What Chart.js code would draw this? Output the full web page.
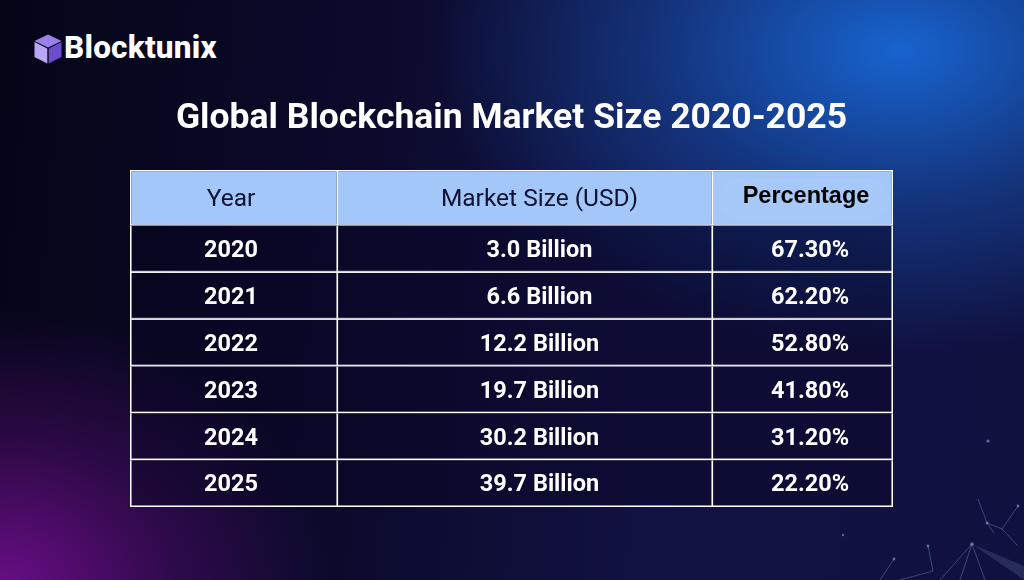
<!DOCTYPE html>
<html>
<head>
<meta charset="utf-8">
<title>Global Blockchain Market Size 2020-2025</title>
<script src="https://cdn.jsdelivr.net/npm/chart.js@4.4.0/dist/chart.umd.min.js"></script>
<style>
  html, body { margin: 0; padding: 0; }
  body {
    width: 1024px;
    height: 580px;
    overflow: hidden;
    position: relative;
    font-family: Roboto, "DejaVu Sans", sans-serif;
    background:
      radial-gradient(ellipse 470px 300px at 900px 50px, rgba(24,104,214,0.95), rgba(24,104,214,0.4) 50%, rgba(24,104,214,0) 100%),
      radial-gradient(ellipse 330px 280px at 0px 590px, rgba(112,14,142,0.95), rgba(112,14,142,0.35) 55%, rgba(112,14,142,0) 100%),
      linear-gradient(95deg, #050518 0%, #0b0a2c 35%, #121243 65%, #10113f 100%);
  }
  #logo {
    position: absolute;
    left: 34px;
    top: 29px;
    display: flex;
    align-items: center;
    color: #ffffff;
    font-weight: 800;
    font-size: 31.5px;
    letter-spacing: 0.2px;
  }
  #logo svg { margin-right: 2px; margin-top: 2px; }
  #marketTable { position: absolute; left: 0; top: 0; }
  #mesh { position: absolute; left: 0; top: 0; pointer-events: none; }
</style>
</head>
<body>
<div id="logo">
  <svg width="28" height="30" viewBox="0 0 28 30">
    <polygon points="14,0.5 27.5,7 14,13.5 0.5,7" fill="#9a80e8"/>
    <polygon points="0.5,8 13.3,14.4 13.3,29.5 0.5,23" fill="#b9a7f5"/>
    <polygon points="27.5,8 27.5,23 14.7,29.5 14.7,14.4" fill="#6a4ccc"/>
  </svg>
  <span>Blocktunix</span>
</div>
<canvas id="marketTable" width="1024" height="580"></canvas>
<svg id="mesh" width="1024" height="580">
  <g stroke="#8fa9d6" stroke-width="0.8" stroke-opacity="0.45" fill="none">
    <polyline points="978,499 987,523 994,533"/>
    <polyline points="987,523 1002,529 1018,506"/>
    <polyline points="1002,529 1018,546"/>
    <polyline points="972,544 940,580"/>
    <polyline points="972,544 960,580"/>
    <polyline points="972,544 985,580"/>
    <polyline points="894,559 880,580"/>
    <polyline points="928,546 933,571 900,580"/>
  </g>
  <polygon points="972,544 1024,566 1024,580" fill="#8fa9d6" fill-opacity="0.18"/>
  <g fill="#9bb4e0" fill-opacity="0.55">
    <circle cx="988" cy="441" r="1.6"/>
    <circle cx="987" cy="523" r="1.4"/>
    <circle cx="1018" cy="506" r="1.4"/>
    <circle cx="972" cy="544" r="1.8"/>
    <circle cx="928" cy="546" r="1.4"/>
    <circle cx="894" cy="559" r="1.4"/>
    <circle cx="843" cy="535" r="1.2"/>
  </g>
</svg>
<script>
const headers = ["Year", "Market Size (USD)", "Percentage"];
const years = ["2020", "2021", "2022", "2023", "2024", "2025"];
const marketSizeBillion = [3.0, 6.6, 12.2, 19.7, 30.2, 39.7];
const percentage = [67.30, 62.20, 52.80, 41.80, 31.20, 22.20];

// table layout: column widths in x-scale units, header height in row units
const columnWidths = [208, 375, 180];
const headerHeight = 56 / 47;
const textShift = [-3, 14, 7];

const colStart = [];
columnWidths.reduce((acc, w) => { colStart.push(acc); return acc + w; }, 0);
const tableWidth = columnWidths.reduce((a, b) => a + b, 0);
const headerY = 0.5 - headerHeight / 2;

const bodyTexts = [
    years,
    marketSizeBillion.map(v => v.toFixed(1) + " Billion"),
    percentage.map(v => v.toFixed(2) + "%")
];

function borderFor(col, isHeader) {
    return {
        top: isHeader ? 1.5 : 0,
        left: col === 0 ? 1.5 : 0,
        right: 1.5,
        bottom: 1.5
    };
}

const datasets = [];
headers.forEach((h, c) => {
    datasets.push({
        label: h,
        data: [{ x: [colStart[c], colStart[c] + columnWidths[c]], y: headerY }],
        texts: [h],
        textFont: c === 2 ? "bold 23.5px 'Liberation Sans', Arial, sans-serif" : "400 24.5px Roboto, sans-serif",
        textColor: c === 2 ? "#000000" : "#0f1233",
        textShift: c === 2 ? 3 : textShift[c],
        textRise: c === 2 ? -1 : 2,
        highlight: c === 2,
        backgroundColor: "#a3c7f9",
        borderColor: "#ffffff",
        borderWidth: borderFor(c, true),
        borderSkipped: false,
        grouped: false,
        barPercentage: headerHeight,
        categoryPercentage: 1
    });
});
headers.forEach((h, c) => {
    datasets.push({
        label: h + " values",
        data: years.map((y, i) => ({ x: [colStart[c], colStart[c] + columnWidths[c]], y: i + 1 })),
        texts: bodyTexts[c],
        textFont: "700 23.5px Roboto, sans-serif",
        textColor: "#ffffff",
        textShift: textShift[c],
        textRise: 2,
        backgroundColor: "rgba(8,5,34,0.4)",
        borderColor: "#ffffff",
        borderWidth: borderFor(c, false),
        borderSkipped: false,
        grouped: false,
        barPercentage: 1,
        categoryPercentage: 1
    });
});

const cellTextPlugin = {
    id: "cellText",
    afterDatasetsDraw(chart) {
        const ctx = chart.ctx;
        chart.data.datasets.forEach((ds, di) => {
            const meta = chart.getDatasetMeta(di);
            meta.data.forEach((bar, i) => {
                const p = bar.getProps(["x", "y", "base", "height"], true);
                const cx = (p.x + p.base) / 2;
                ctx.save();
                if (ds.highlight) {
                    const left = Math.min(p.x, p.base) + 6;
                    const w = Math.abs(p.x - p.base) - 10;
                    const top = p.y - p.height / 2 + 8;
                    const hgt = p.height - 15;
                    ctx.fillStyle = "rgba(255,255,255,0.05)";
                    ctx.beginPath();
                    ctx.roundRect(left, top, w, hgt, hgt / 2);
                    ctx.fill();
                }
                ctx.font = ds.textFont;
                ctx.fillStyle = ds.textColor;
                ctx.textAlign = "center";
                ctx.textBaseline = "middle";
                ctx.fillText(ds.texts[i], cx + ds.textShift, p.y + ds.textRise);
                ctx.restore();
            });
        });
    }
};

function initializeTable() {
    const ctx = document.getElementById("marketTable");
    new Chart(ctx, {
        type: "bar",
        data: { datasets: datasets },
        plugins: [cellTextPlugin],
        options: {
            indexAxis: "y",
            responsive: false,
            animation: false,
            devicePixelRatio: 1,
            layout: {
                padding: { top: 0, left: 130, right: 131, bottom: 73 }
            },
            scales: {
                x: {
                    type: "linear",
                    display: false,
                    min: 0,
                    max: tableWidth
                },
                y: {
                    type: "linear",
                    display: false,
                    offset: false,
                    reverse: true,
                    min: 0.5 - headerHeight,
                    max: years.length + 0.5,
                    afterBuildTicks: scale => {
                        scale.ticks = [headerY].concat(years.map((y, i) => i + 1)).map(v => ({ value: v }));
                    }
                }
            },
            plugins: {
                legend: { display: false },
                tooltip: { enabled: false },
                title: {
                    display: true,
                    text: "Global Blockchain Market Size 2020-2025",
                    color: "#ffffff",
                    font: { family: "Roboto", weight: "bold", size: 35.5, lineHeight: 1.2 },
                    padding: { top: 97.5, bottom: 29.9 }
                }
            }
        }
    });
}

initializeTable();
</script>
</body>
</html>
